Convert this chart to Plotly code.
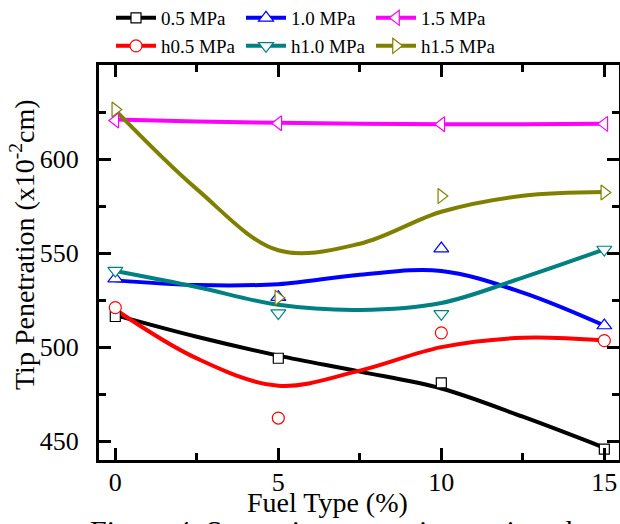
import plotly.graph_objects as go

# ---- data ----
fuel = [0, 5, 10, 15]
p05 = [516.3, 494.1, 481.0, 445.8]
p10 = [536.4, 526.6, 552.4, 511.5]
p15 = [620.5, 619.0, 618.5, 618.7]
h05 = [521.0, 462.3, 507.6, 503.5]
h10 = [540.7, 518.1, 517.7, 551.9]
h15 = [626.3, 526.3, 580.3, 582.2]

# fitted trend curves
fit_x = [0, 2.5, 5, 7.5, 10, 12.5, 15]
fit_p05 = [517, 505.5, 495.5, 487, 478, 463, 446.5]
fit_p10 = [535.5, 533, 533.5, 538.5, 540.5, 529, 511.5]
fit_p15 = [621, 620, 619.3, 618.8, 618.5, 618.5, 618.7]
fit_h05 = [520, 494, 479.5, 487.5, 500, 505, 503.5]
fit_h10 = [540.5, 532, 522.5, 519.8, 523.5, 537, 552]
fit_h15 = [626, 584, 551.5, 555, 572, 580.5, 582.5]

names = ["0.5 MPa", "1.0 MPa", "1.5 MPa", "h0.5 MPa", "h1.0 MPa", "h1.5 MPa"]
colors = ["#000000", "#0000FF", "#FF00FF", "#FF0000", "#008080", "#808000"]
symbols = ["square", "triangle-up", "triangle-left", "circle", "triangle-down", "triangle-right"]
sizes = [10, 13, 13, 12, 13, 13]
points = [p05, p10, p15, h05, h10, h15]
fits = [fit_p05, fit_p10, fit_p15, fit_h05, fit_h10, fit_h15]

FONT = "Liberation Serif"
L, R, T, B, W, H = 99, 1, 65, 64, 620, 524
PW, PH = W - L - R, H - T - B

def px_x(px):
    return (px - L) / PW

def px_y(py):
    return (H - B - py) / PH

fig = go.Figure()

for i in range(6):
    fig.add_trace(go.Scatter(x=fit_x, y=fits[i], mode="lines",
                             line=dict(color=colors[i], width=4, shape="spline"),
                             showlegend=False, hoverinfo="skip"))
for i in range(6):
    fig.add_trace(go.Scatter(x=fuel, y=points[i], mode="markers",
                             marker=dict(symbol=symbols[i], size=sizes[i], color="white",
                                         line=dict(color=colors[i], width=1.2)),
                             showlegend=False))

legend_names = ["legend", "legend2", "legend3", "legend4", "legend5", "legend6"]
for i in range(6):
    fig.add_trace(go.Scatter(x=[None], y=[None], mode="lines+markers", name=names[i],
                             line=dict(color=colors[i], width=4),
                             marker=dict(symbol=symbols[i], size=sizes[i], color="white",
                                         line=dict(color=colors[i], width=1.2)),
                             legend=legend_names[i]))

axis_common = dict(showline=True, linecolor="black", linewidth=3, mirror="allticks",
                   ticks="inside", ticklen=12, tickwidth=3, tickcolor="black",
                   showgrid=False, zeroline=False,
                   tickfont=dict(family=FONT, size=26, color="black"))

fig.update_xaxes(range=[-0.5, 15.45], tickvals=[0, 5, 10, 15], ticklabelstandoff=-3,
                 minor=dict(tickvals=[2.5, 7.5, 12.5], ticks="inside", ticklen=7,
                            tickwidth=3, tickcolor="black"),
                 **axis_common)
fig.update_yaxes(range=[440, 650], tickvals=[450, 500, 550, 600], ticklabelstandoff=12,
                 minor=dict(tickvals=[475, 525, 575, 625], ticks="inside", ticklen=7,
                            tickwidth=3, tickcolor="black"),
                 **axis_common)

legend_common = dict(font=dict(family=FONT, size=19, color="black"),
                     bgcolor="rgba(0,0,0,0)", xanchor="left", yanchor="middle",
                     itemwidth=40)
col_px = [111, 241, 371]
row_py = [18, 46]
legends = {}
for i in range(6):
    legends[legend_names[i]] = dict(x=px_x(col_px[i % 3]), y=px_y(row_py[i // 3]),
                                    **legend_common)

fig.update_layout(
    width=W, height=H,
    margin=dict(l=L, r=R, t=T, b=B, autoexpand=False),
    paper_bgcolor="white", plot_bgcolor="white",
    font=dict(family=FONT, color="black"),
    annotations=[
        dict(text="Fuel Type (%)", xref="paper", yref="paper",
             x=px_x(327), y=px_y(503), xanchor="center", yanchor="middle",
             showarrow=False, font=dict(family=FONT, size=28, color="black")),
        dict(text="Tip Penetration (x10<sup>-2</sup>cm)", xref="paper", yref="paper",
             x=px_x(22), y=px_y(245), xanchor="center", yanchor="middle",
             textangle=-90, showarrow=False, font=dict(family=FONT, size=28, color="black")),
        dict(text="Figure 4. Spray tip penetration against the", xref="paper", yref="paper",
             x=px_x(88), y=px_y(512), xanchor="left", yanchor="top",
             showarrow=False, font=dict(family=FONT, size=30, color="black")),
    ],
    **legends,
)

fig.write_html("out.html", config={"displayModeBar": False},
               post_script="document.body.style.margin='0';document.body.style.padding='0';")
